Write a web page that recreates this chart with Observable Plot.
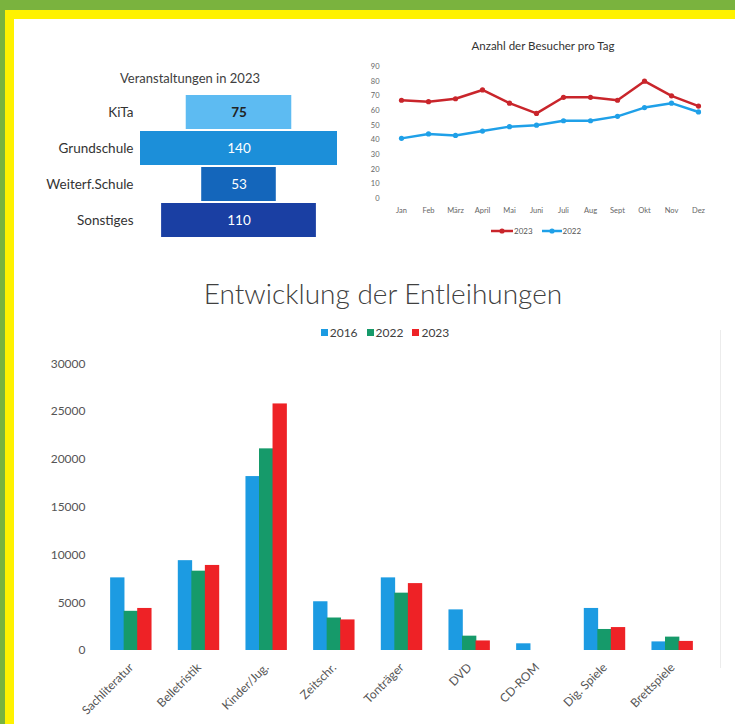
<!DOCTYPE html>
<html><head><meta charset="utf-8">
<script src="https://cdn.jsdelivr.net/npm/d3@7"></script>
<script src="https://cdn.jsdelivr.net/npm/@observablehq/plot@0.6"></script>
<style>
body{margin:0;background:#fff;}
#page{position:relative;width:735px;height:724px;background:#7ab33e;overflow:hidden;font-family:Lato,"Open Sans",sans-serif;}
#yellow{position:absolute;left:5px;top:10px;right:0;bottom:0;background:#fff200;}
#white{position:absolute;left:14px;top:19px;right:0;bottom:0;background:#fff;}
.abs{position:absolute;}
.abs svg{overflow:visible;}
.sw{display:inline-block;width:7px;height:7px;margin-right:2px;vertical-align:1px;}
</style></head><body>
<div id="page">
<div id="yellow"></div><div id="white"></div>
<div class="abs" style="left:90px;width:200px;top:70px;line-height:16px;text-align:center;font-size:13px;color:#404040">Veranstaltungen in 2023</div>
<div class="abs" style="left:443px;width:200px;top:38px;line-height:16px;text-align:center;font-size:11.5px;color:#333">Anzahl der Besucher pro Tag</div>
<div class="abs" id="lineLegend" style="left:490px;top:225px;font-size:8px;color:#555;line-height:12px;white-space:nowrap"></div>
<div class="abs" style="left:133px;width:500px;top:276px;line-height:34px;text-align:center;font-size:28px;font-weight:300;color:#404040">Entwicklung der Entleihungen</div>
<div class="abs" id="barLegend" style="left:235px;width:300px;top:325px;line-height:16px;text-align:center;font-size:12px;color:#404040;white-space:nowrap"></div>
<div class="abs" style="left:720px;top:330px;width:1px;height:338px;background:#ececec"></div>
<div class="abs" id="c1" style="left:0;top:0"></div>
<div class="abs" id="c2" style="left:350px;top:55px"></div>
<div class="abs" id="c3" style="left:0;top:350px"></div>
</div>
<script>
// Veranstaltungen in 2023
const eventCats = ["KiTa", "Grundschule", "Weiterf.Schule", "Sonstiges"];
const eventVals = [75, 140, 53, 110];
const eventColors = ["#5dbbf2", "#1c8fd9", "#1466bb", "#1a3fa3"];

// Anzahl der Besucher pro Tag
const months = ["Jan", "Feb", "März", "April", "Mai", "Juni", "Juli", "Aug", "Sept", "Okt", "Nov", "Dez"];
const visitors2023 = [67, 66, 68, 74, 65, 58, 69, 69, 67, 80, 70, 63];
const visitors2022 = [41, 44, 43, 46, 49, 50, 53, 53, 56, 62, 65, 59];
const visitorTicks = [0, 10, 20, 30, 40, 50, 60, 70, 80, 90];
const red = "#c9252b", lightBlue = "#1fa0e8";

// Entwicklung der Entleihungen
const loanCats = ["Sachliteratur", "Belletristik", "Kinder/Jug.", "Zeitschr.", "Tonträger", "DVD", "CD-ROM", "Dig. Spiele", "Brettspiele"];
const years = ["2016", "2022", "2023"];
const loans2016 = [7600, 9400, 18200, 5100, 7600, 4250, 700, 4400, 900];
const loans2022 = [4100, 8300, 21100, 3400, 6000, 1500, 0, 2200, 1400];
const loans2023 = [4400, 8900, 25800, 3200, 7000, 1000, 0, 2400, 950];
const loanTicks = [0, 5000, 10000, 15000, 20000, 25000, 30000];
const yearColors = ["#1c9be2", "#169a6a", "#ee2226"];

// ---- chart 1
const events = eventCats.map((c, i) => ({cat: c, v: eventVals[i]}));
document.getElementById("c1").append(Plot.plot({
  width: 350, height: 250,
  marginLeft: 140, marginRight: 13, marginTop: 91.5, marginBottom: 9.5,
  style: {fontFamily: "Lato, sans-serif", fontSize: "13.5px", color: "#333", background: "transparent"},
  x: {domain: [-70, 70], axis: null},
  y: {domain: eventCats, padding: 0.06, tickSize: 0, tickPadding: 7, label: null},
  color: {domain: eventCats, range: eventColors},
  marks: [
    Plot.barX(events, {x1: d => -d.v / 2, x2: d => d.v / 2, y: "cat", fill: "cat"}),
    Plot.text(events.filter(d => d.cat === "KiTa"), {x: 0, y: "cat", text: d => String(d.v), fill: "#222", fontWeight: "bold", fontSize: 13.5}),
    Plot.text(events.filter(d => d.cat !== "KiTa"), {x: 0, y: "cat", text: d => String(d.v), fill: "#fff", fontSize: 13.5})
  ]
}));

// ---- chart 2
const visits = [];
months.forEach((m, i) => {
  visits.push({m, v: visitors2023[i], s: "2023"});
  visits.push({m, v: visitors2022[i], s: "2022"});
});
const v23 = visits.filter(d => d.s === "2023"), v22 = visits.filter(d => d.s === "2022");
document.getElementById("c2").append(Plot.plot({
  width: 370, height: 170,
  marginLeft: 49, marginRight: 20, marginTop: 11, marginBottom: 27,
  style: {fontFamily: "Lato, sans-serif", fontSize: "7.5px", color: "#666", background: "transparent"},
  x: {type: "point", domain: months, padding: 0, tickSize: 0, tickPadding: 9, label: null},
  y: {domain: [0, 90], ticks: visitorTicks, tickSize: 0, tickPadding: 20, label: null},
  marks: [
    Plot.lineY(v22, {x: "m", y: "v", stroke: lightBlue, strokeWidth: 2.5}),
    Plot.dot(v22, {x: "m", y: "v", fill: lightBlue, r: 2.6}),
    Plot.lineY(v23, {x: "m", y: "v", stroke: red, strokeWidth: 2.5}),
    Plot.dot(v23, {x: "m", y: "v", fill: red, r: 2.6})
  ]
}));
document.getElementById("lineLegend").innerHTML =
  `<svg width="24" height="8" style="vertical-align:-1px"><line x1="1" y1="4" x2="23" y2="4" stroke="${red}" stroke-width="2.5"/><circle cx="12" cy="4" r="2.6" fill="${red}"/></svg>2023` +
  `<span style="display:inline-block;width:8px"></span>` +
  `<svg width="22" height="8" style="vertical-align:-1px"><line x1="1" y1="4" x2="21" y2="4" stroke="${lightBlue}" stroke-width="2.5"/><circle cx="11" cy="4" r="2.6" fill="${lightBlue}"/></svg>2022`;

// ---- chart 3
const loans = [];
loanCats.forEach((c, i) => {
  loans.push({cat: c, year: "2016", v: loans2016[i]});
  loans.push({cat: c, year: "2022", v: loans2022[i]});
  loans.push({cat: c, year: "2023", v: loans2023[i]});
});
document.getElementById("c3").append(Plot.plot({
  width: 735, height: 374,
  marginLeft: 97, marginRight: 29, marginTop: 13.3, marginBottom: 74,
  style: {fontFamily: "Lato, sans-serif", fontSize: "12px", color: "#555", background: "transparent"},
  fx: {domain: loanCats, padding: 0, round: false, axis: "bottom", tickRotate: -45, tickSize: 0, tickPadding: 15, label: null},
  x: {domain: years, axis: null, paddingInner: 0, paddingOuter: 1, round: false},
  y: {domain: [0, 30000], ticks: loanTicks, tickFormat: d3.format("d"), tickSize: 0, tickPadding: 12, label: null},
  color: {domain: years, range: yearColors},
  marks: [
    Plot.barY(loans.filter(d => d.v > 0), {fx: "cat", x: "year", y: "v", fill: "year", insetLeft: -0.4, insetRight: -0.4})
  ]
}));
document.getElementById("barLegend").innerHTML = years.map((y, i) =>
  `<span class="sw" style="background:${yearColors[i]}"></span>${y}`).join('<span style="display:inline-block;width:9px"></span>');
</script>
</body></html>
